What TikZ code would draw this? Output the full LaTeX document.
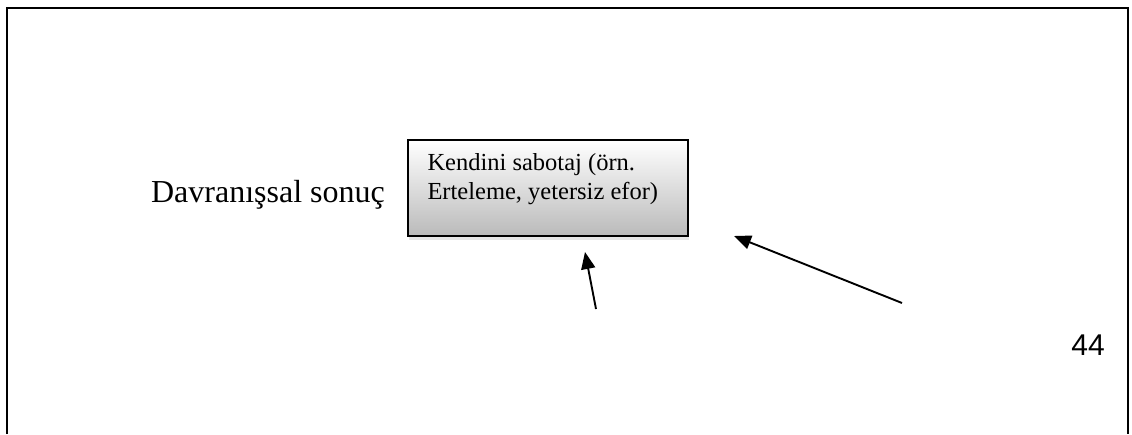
\documentclass[tikz,border=0pt]{standalone}
\usepackage{fontspec}
\setmainfont{Liberation Serif}
\newfontfamily\numfont{Liberation Sans}
\usetikzlibrary{arrows.meta, shadows}
\tikzstyle{outcome} = [rectangle, minimum width=280pt, minimum height=96pt, draw=black, line width=1.4pt, top color=white, bottom color=black!27, drop shadow={shadow xshift=1pt, shadow yshift=-4pt, opacity=0.2}]
\tikzstyle{boxtext} = [inner sep=0pt, align=left, font=\fontsize{24.5pt}{29pt}\selectfont]
\tikzstyle{arrow} = [line width=1.9pt, -{Triangle[length=17pt, width=14pt]}]
\begin{document}
\begin{tikzpicture}[x=1pt, y=-1pt]
%background
\useasboundingbox (0,0) rectangle (1132,434);
\draw[line width=1.8pt] (7,434) -- (7,8) -- (1128,8) -- (1128,434);
%nodes
\node[font=\fontsize{32pt}{36pt}\selectfont] (label) at (268,195) {Davranışsal sonuç};
\node (effect) [outcome] at (548,188) {};
\node (effecttext) [boxtext, anchor=north west] at ([xshift=20pt, yshift=-14pt]effect.north west) {Kendini sabotaj (örn.\\Erteleme, yetersiz efor)};
\node[font=\numfont\fontsize{30pt}{30pt}\selectfont] (page) at (1088,345) {44};
%free ends
\coordinate (tail1) at (596,309);
\coordinate (head1) at (585,252);
\coordinate (tail2) at (902,303);
\coordinate (head2) at (734,236);
%arrows
\draw [arrow] (tail1) -- (head1);
\draw [arrow] (tail2) -- (head2);
\end{tikzpicture}
\end{document}
